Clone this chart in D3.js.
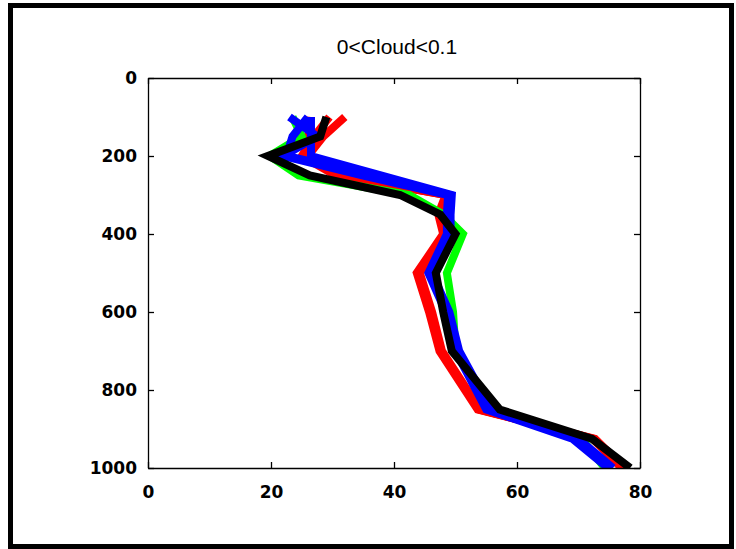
<!DOCTYPE html>
<html>
<head>
<meta charset="utf-8">
<script src="https://cdn.jsdelivr.net/npm/d3@7"></script>
<style>
  body { margin: 0; background: #fff; }
</style>
</head>
<body>
<div id="chart"></div>
<script>
// pressure levels (y axis, reversed)
var levels = [100, 150, 200, 250, 300, 350, 400, 500, 600, 700, 850, 925, 1000];

// values, one array per line
var red1  = [32.0, 28.5, 26.0, 31.0, 48.4, 47.2, 48.0, 43.7, 45.7, 47.4, 53.6, 72.7, 77.5];
var red2  = [29.5, 27.0, 25.0, 30.5, 48.6, 47.4, 48.2, 44.0, 46.0, 47.6, 53.8, 72.5, 77.3];
var red3  = [26.5, 26.0, 25.5, 31.5, 48.8, 47.6, 48.4, 44.2, 46.2, 47.8, 54.0, 72.3, 77.0];
var green = [23.5, 25.0, 19.8, 24.5, 42.5, 48.0, 51.2, 48.6, 49.6, 50.0, 55.6, 70.5, 74.3];
var blue1 = [23.0, 27.5, 22.0, 35.0, 48.8, 48.6, 48.6, 45.6, 48.4, 50.0, 55.0, 69.0, 74.8];
var blue2 = [26.0, 23.5, 22.5, 36.5, 49.1, 48.9, 49.0, 46.0, 48.7, 50.3, 55.4, 69.5, 75.2];
var blue3 = [26.5, 26.5, 26.5, 38.0, 49.4, 49.2, 49.2, 46.2, 49.0, 50.6, 55.8, 70.0, 75.6];
var black = [29.0, 28.0, 19.5, 26.3, 41.0, 47.5, 50.0, 46.8, 48.0, 49.4, 57.2, 72.2, 78.4];

var series = [
  { values: red1, color: "#ff0000" },
  { values: red2, color: "#ff0000" },
  { values: red3, color: "#ff0000" },
  { values: green, color: "#00ff00" },
  { values: blue1, color: "#0000ff" },
  { values: blue2, color: "#0000ff" },
  { values: blue3, color: "#0000ff" },
  { values: black, color: "#000000" }
];

var xTicks = [0, 20, 40, 60, 80];
var yTicks = [0, 200, 400, 600, 800, 1000];
var title = "0<Cloud<0.1";

var W = 736, H = 549;
var margin = { left: 148, right: 96, top: 78, bottom: 81 };

var svg = d3.select("#chart").append("svg")
    .attr("width", W)
    .attr("height", H);

// outer frame
svg.append("rect")
    .attr("x", 10.5).attr("y", 5.5)
    .attr("width", 721).attr("height", 541)
    .attr("fill", "#fff")
    .attr("stroke", "#000")
    .attr("stroke-width", 5);

var x = d3.scaleLinear().domain([0, 80]).range([margin.left, W - margin.right]);
var y = d3.scaleLinear().domain([0, 1000]).range([margin.top, H - margin.bottom]);

svg.append("clipPath").attr("id", "clip")
  .append("rect")
    .attr("x", x(0)).attr("y", y(0))
    .attr("width", x(80) - x(0)).attr("height", y(1000) - y(0));

var line = d3.line()
    .x(function (d) { return x(d[0]); })
    .y(function (d) { return y(d[1]); });

var plot = svg.append("g").attr("clip-path", "url(#clip)");
series.forEach(function (s) {
    plot.append("path")
        .datum(s.values.map(function (v, i) { return [v, levels[i]]; }))
        .attr("d", line)
        .attr("fill", "none")
        .attr("stroke", s.color)
        .attr("stroke-width", 8)
        .attr("stroke-linejoin", "miter");
});

// axes box with inward ticks on all sides
var tl = 6;
svg.append("g")                                  // bottom
    .attr("transform", "translate(0," + y(1000) + ")")
    .call(d3.axisBottom(x).tickValues(xTicks).tickSize(-tl).tickPadding(18).tickSizeOuter(0));
svg.append("g")                                  // top
    .attr("transform", "translate(0," + y(0) + ")")
    .call(d3.axisTop(x).tickValues(xTicks).tickSize(-tl).tickFormat("").tickSizeOuter(0));
svg.append("g")                                  // left
    .attr("transform", "translate(" + x(0) + ",0)")
    .call(d3.axisLeft(y).tickValues(yTicks).tickSize(-tl).tickPadding(11)
        .tickFormat(d3.format("d")).tickSizeOuter(0));
svg.append("g")                                  // right
    .attr("transform", "translate(" + x(80) + ",0)")
    .call(d3.axisRight(y).tickValues(yTicks).tickSize(-tl).tickFormat("").tickSizeOuter(0));

svg.selectAll(".domain").attr("stroke", "#000").attr("stroke-width", 1.3);
svg.selectAll(".tick line").attr("stroke", "#000").attr("stroke-width", 1.3);
svg.selectAll(".tick text")
    .attr("fill", "#000")
    .style("font-size", "17px")
    .style("font-weight", "bold")
    .style("font-family", "'DejaVu Sans', sans-serif");

svg.append("text")                               // title
    .attr("x", (x(0) + x(80)) / 2 + 3)
    .attr("y", 54)
    .attr("text-anchor", "middle")
    .style("font-size", "21px")
    .style("font-family", "'Liberation Sans', Arial, sans-serif")
    .text(title);
</script>
</body>
</html>
